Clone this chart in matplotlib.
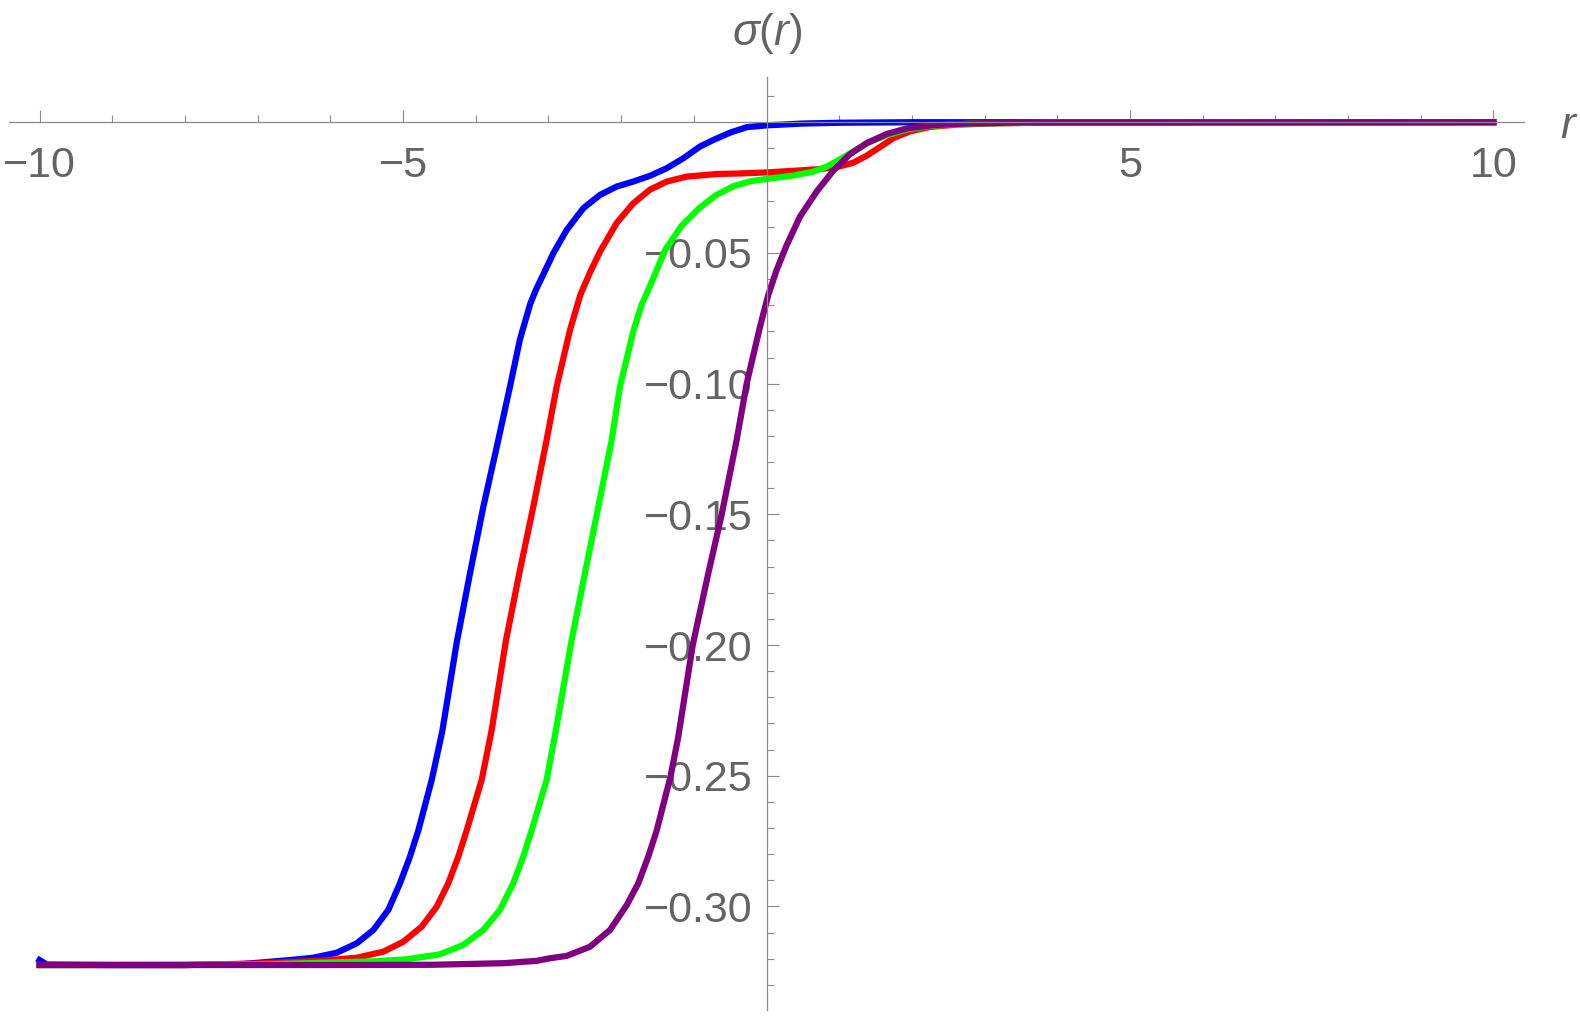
import numpy as np
import matplotlib
matplotlib.use('Agg')
import matplotlib.pyplot as plt

plt.rcParams['font.family'] = ['Liberation Sans', 'DejaVu Sans']
plt.rcParams['mathtext.fontset'] = 'custom'
plt.rcParams['mathtext.rm'] = 'Liberation Sans'
plt.rcParams['mathtext.it'] = 'Liberation Sans:italic'

# values
blue_r = [-10, -9.9, -9.0, -8.0, -7.2, -6.554, -6.234, -5.912, -5.637, -5.408, -5.202,
          -5.041, -4.904, -4.789, -4.605, -4.46, -4.261, -4.078, -3.895, -3.689, -3.528,
          -3.391, -3.25, -3.17, -3.092, -2.932, -2.748, -2.520, -2.290, -2.060, -1.832,
          -1.603, -1.373, -1.144, -0.915, -0.732, -0.502, -0.272, 0.0, 0.5, 1.0, 2.0, 10.0]
blue_s = [-0.3205, -0.3222, -0.3224, -0.3224, -0.3220, -0.3205, -0.3196, -0.3177, -0.3141,
          -0.3090, -0.3013, -0.2911, -0.2809, -0.2709, -0.2516, -0.2330, -0.1990, -0.1725,
          -0.1471, -0.1215, -0.1011, -0.0830, -0.0695, -0.0640, -0.0595, -0.0501, -0.0412,
          -0.0329, -0.0278, -0.0246, -0.0227, -0.0205, -0.0176, -0.0138, -0.0093, -0.0068,
          -0.0040, -0.0019, -0.0012, -0.0005, -0.0002, 0.0, 0.0]

red_r = [-10, -8, -7, -6.096, -5.637, -5.271, -4.996, -4.743, -4.537, -4.377, -4.239, -4.124,
         -3.918, -3.78, -3.583, -3.400, -3.208, -3.024, -2.886, -2.703, -2.560, -2.428,
         -2.290, -2.060, -1.832, -1.603, -1.373, -1.098, -0.685, -0.365, 0.0, 0.369, 0.691,
         0.966, 1.194, 1.378, 1.561, 1.745, 1.974, 2.249, 2.616, 3.21, 4.0, 10]
red_s = [-0.3224, -0.3224, -0.3218, -0.3207, -0.3196, -0.3173, -0.3135, -0.3077, -0.3001,
         -0.2911, -0.2809, -0.2709, -0.2516, -0.2325, -0.1981, -0.1725, -0.1471, -0.1215,
         -0.1011, -0.0795, -0.0660, -0.0575, -0.0495, -0.0385, -0.0310, -0.0258, -0.0227,
         -0.0208, -0.0198, -0.0196, -0.0192, -0.0186, -0.0180, -0.0172, -0.0155, -0.0128,
         -0.0095, -0.0061, -0.0035, -0.0018, -0.0009, -0.0004, -0.0001, 0.0]

green_r = [-10, -7, -5.408, -4.949, -4.491, -4.170, -3.895, -3.666, -3.483, -3.345, -3.230,
           -3.024, -2.896, -2.680, -2.497, -2.313, -2.129, -2.015, -1.832, -1.72, -1.60,
           -1.395, -1.167, -0.93, -0.70, -0.457, -0.227, 0.0, 0.369, 0.644, 0.828, 1.011,
           1.194, 1.40, 1.653, 1.928, 2.295, 2.845, 4.0, 10]
green_s = [-0.3224, -0.3222, -0.3210, -0.3202, -0.3183, -0.3147, -0.3090, -0.3013, -0.2911,
           -0.2809, -0.2709, -0.2516, -0.2325, -0.1981, -0.1725, -0.1471, -0.1215, -0.1011,
           -0.0800, -0.0700, -0.0625, -0.0489, -0.0396, -0.0330, -0.0280, -0.0245, -0.0226,
           -0.0217, -0.0204, -0.0189, -0.0170, -0.0142, -0.0112, -0.0078, -0.0050, -0.0028,
           -0.0013, -0.0005, -0.0001, 0.0]

purple_r = [-10, -6, -4.6, -3.62, -3.161, -2.978, -2.748, -2.428, -2.153, -1.923, -1.763,
            -1.626, -1.510, -1.318, -1.213, -1.015, -0.800, -0.616, -0.410, -0.272, -0.089,
            0.025, 0.140, 0.278, 0.461, 0.691, 0.919, 1.149, 1.378, 1.653, 1.928, 2.295,
            2.754, 3.5, 10]
purple_s = [-0.3224, -0.3224, -0.3223, -0.3217, -0.3208, -0.3198, -0.3189, -0.3154, -0.3090,
            -0.2995, -0.2911, -0.2809, -0.2709, -0.2500, -0.2350, -0.2000, -0.1725, -0.1500,
            -0.1215, -0.0999, -0.0782, -0.0660, -0.0565, -0.0470, -0.0361, -0.0265, -0.0185,
            -0.0122, -0.0080, -0.0045, -0.0024, -0.0011, -0.0005, -0.0001, 0.0]

x_major = [-10, -5, 5, 10]
x_labels = ['\u221210', '\u22125', '5', '10']
y_major = [-0.30, -0.25, -0.20, -0.15, -0.10, -0.05]
y_labels = ['\u22120.30', '\u22120.25', '\u22120.20', '\u22120.15', '\u22120.10', '\u22120.05']

axis_col = '#8a8a8a'
text_col = '#646464'

fig = plt.figure(figsize=(15.8, 10.18), dpi=100)
ax = fig.add_axes([9 / 1580, 8 / 1018, 1515 / 1580, 933 / 1018])

lw = 4.5
ax.plot(blue_r, blue_s, color='#0000ff', lw=lw, solid_joinstyle='round')
ax.plot(red_r, red_s, color='#ff0000', lw=lw, solid_joinstyle='round')
ax.plot(green_r, green_s, color='#00ff00', lw=lw, solid_joinstyle='round')
ax.plot(purple_r, purple_s, color='#800080', lw=lw, solid_joinstyle='round')

ax.set_xlim(-10.42, 10.42)
ax.set_ylim(-0.3396, 0.0173)

# axes through the origin, Mathematica style
ax.spines['left'].set_position(('data', 0))
ax.spines['bottom'].set_position(('data', 0))
ax.spines['top'].set_visible(False)
ax.spines['right'].set_visible(False)
for s in ['left', 'bottom']:
    ax.spines[s].set_color(axis_col)
    ax.spines[s].set_linewidth(0.9)

ax.set_xticks(x_major)
ax.set_xticklabels(x_labels)
ax.set_xticks([v for v in range(-9, 10) if v % 5 != 0], minor=True)
ax.set_yticks(y_major)
ax.set_yticklabels(y_labels)
ax.set_yticks([round(v * 0.01, 2) for v in range(-33, 2) if v % 5 != 0], minor=True)

ax.tick_params(which='both', direction='in', color=axis_col, width=0.8,
               labelcolor=text_col, labelsize=31)
ax.tick_params(which='major', length=8.6)
ax.tick_params(which='minor', length=5)
ax.tick_params(axis='x', pad=17)
ax.tick_params(axis='y', pad=10)

fig.text(1568 / 1580, 1 - 127 / 1018, 'r', style='italic', fontsize=32,
         color=text_col, ha='center', va='center')
fig.text(767.5 / 1580, 1 - 33 / 1018, r'$\sigma(r)$', fontsize=32,
         color=text_col, ha='center', va='center')

fig.savefig('out.png', dpi=100)
